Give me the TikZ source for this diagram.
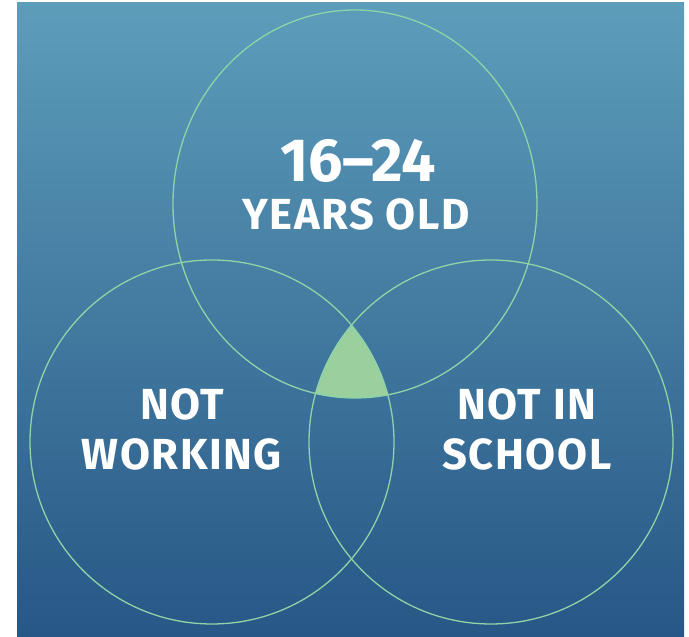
\documentclass[tikz,border=0pt]{standalone}
\usepackage{fontspec}
\setmainfont{Fira Sans}
\usepackage{tikz}
\definecolor{bgtop}{RGB}{93,157,186}
\definecolor{bgbottom}{RGB}{39,87,134}
\definecolor{ringline}{RGB}{143,211,168}
\definecolor{corefill}{RGB}{154,207,158}
\tikzset{
  ring/.style={draw=ringline,line width=1.3pt},
  biglabel/.style={text=white,font=\bfseries\fontsize{61}{61}\selectfont,anchor=base,inner sep=0pt},
  setlabel/.style={text=white,font=\bfseries\fontsize{43.5}{43.5}\selectfont\addfontfeature{LetterSpace=3.5},anchor=base,inner sep=0pt}
}
\begin{document}
\begin{tikzpicture}[x=1pt,y=1pt]
\useasboundingbox (0,0) rectangle (689,637);
% objects at depth 100:
\path[top color=bgtop,bottom color=bgbottom] (17,0) rectangle (684,634);
% objects at depth 50:
\begin{scope}
\clip (212,195) circle (182);
\clip (491,195) circle (182);
\path[fill=corefill] (355,433) ellipse (182 and 194);
\end{scope}
% objects at depth 10:
\path[ring] (355,433) ellipse (182 and 194);
\path[ring] (212,195) circle (182);
\path[ring] (491,195) circle (182);
% labels:
\node[biglabel] (agenum) at (358,455) {16–24};
\node[setlabel] (ageword) at (356,407) {YEARS OLD};
\node[setlabel] (workA) at (182,217) {NOT};
\node[setlabel] (workB) at (182,167) {WORKING};
\node[setlabel] (schoolA) at (527,217) {NOT IN};
\node[setlabel] (schoolB) at (527,167) {SCHOOL};
\end{tikzpicture}
\end{document}
